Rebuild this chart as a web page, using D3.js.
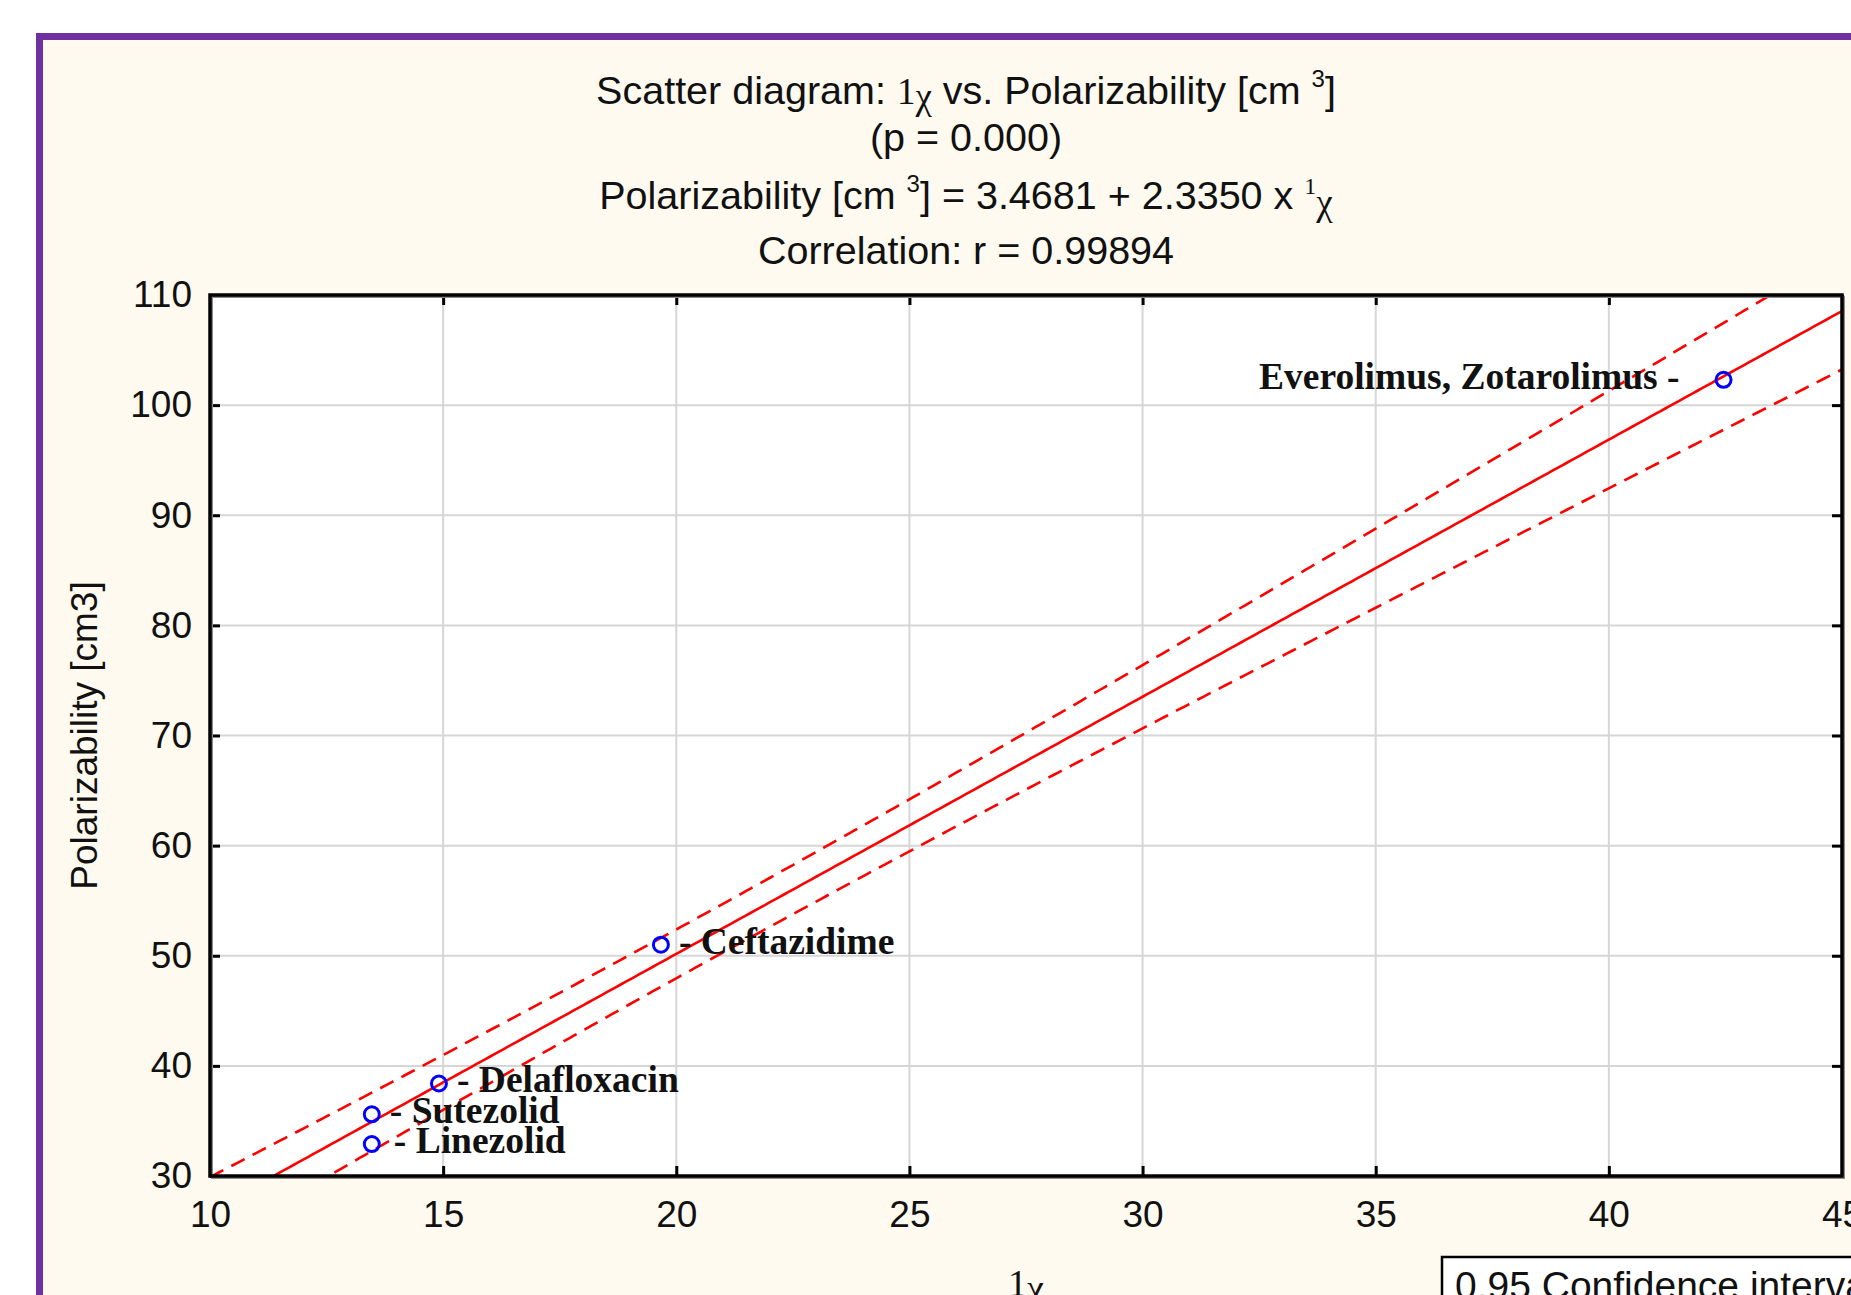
<!DOCTYPE html>
<html>
<head>
<meta charset="utf-8">
<script src="https://cdn.jsdelivr.net/npm/d3@7"></script>
<style>
  html, body { margin: 0; padding: 0; background: #ffffff; overflow: hidden; }
  svg { display: block; }
  .sans { font-family: "Liberation Sans", Arial, sans-serif; }
  .serif { font-family: "Liberation Serif", "Times New Roman", serif; }
</style>
</head>
<body>
<svg id="chart" width="1851" height="1295"></svg>
<script>
// ---------------- data ----------------
const pointNames = ["Everolimus, Zotarolimus", "Ceftazidime", "Delafloxacin", "Sutezolid", "Linezolid"];
const chiValues = [42.46, 19.67, 14.91, 13.47, 13.47];          // 1χ
const polarValues = [102.3, 51.0, 38.4, 35.6, 32.9];            // Polarizability [cm3]
const xTickValues = [10, 15, 20, 25, 30, 35, 40, 45];
const yTickValues = [30, 40, 50, 60, 70, 80, 90, 100, 110];
const fitIntercept = 3.4681;
const fitSlope = 2.3350;
const correlationR = "0.99894";
const pValueText = "0.000";
const confidenceLevel = "0.95";
const tCritical = 3.182; // t(0.975, df = n - 2 = 3)

// ---------------- layout ----------------
const W = 1851, H = 1295;
const plot = { left: 210, right: 1842, top: 295, bottom: 1176 };
const svg = d3.select("#chart");

// background + purple frame
svg.append("rect").attr("x", 0).attr("y", 0).attr("width", W).attr("height", H).attr("fill", "#ffffff");
svg.append("rect").attr("x", 39.5).attr("y", 36.5).attr("width", W + 50).attr("height", H + 50)
  .attr("fill", "#fefaef").attr("stroke", "#7030a0").attr("stroke-width", 7);

const x = d3.scaleLinear().domain([10, 45]).range([plot.left, plot.right]);
const y = d3.scaleLinear().domain([30, 110]).range([plot.bottom, plot.top]);

// plot area
svg.append("rect").attr("x", plot.left).attr("y", plot.top)
  .attr("width", plot.right - plot.left).attr("height", plot.bottom - plot.top).attr("fill", "#ffffff");

// gridlines
const grid = svg.append("g").attr("stroke", "#d6d6d6").attr("stroke-width", 2);
grid.selectAll("line.v").data(xTickValues.slice(1, -1)).join("line")
  .attr("x1", d => x(d)).attr("x2", d => x(d)).attr("y1", plot.top).attr("y2", plot.bottom);
grid.selectAll("line.h").data(yTickValues.slice(1, -1)).join("line")
  .attr("y1", d => y(d)).attr("y2", d => y(d)).attr("x1", plot.left).attr("x2", plot.right);

// clip
svg.append("clipPath").attr("id", "clip").append("rect")
  .attr("x", plot.left).attr("y", plot.top).attr("width", plot.right - plot.left).attr("height", plot.bottom - plot.top);

// regression + confidence band (derived from the data points)
const n = chiValues.length;
const meanX = d3.mean(chiValues);
const sxx = d3.sum(chiValues, v => (v - meanX) * (v - meanX));
const sse = d3.sum(chiValues.map((v, i) => {
  const r = polarValues[i] - (fitIntercept + fitSlope * v);
  return r * r;
}));
const sRes = Math.sqrt(sse / (n - 2));
const fit = v => fitIntercept + fitSlope * v;
const halfWidth = v => tCritical * sRes * Math.sqrt(1 / n + (v - meanX) * (v - meanX) / sxx);
const xs = d3.range(x.domain()[0], x.domain()[1] + 0.001, 0.1);

const lines = svg.append("g").attr("clip-path", "url(#clip)");
const lineGen = fn => d3.line().x(d => x(d)).y(d => y(fn(d)))(xs);
lines.append("path").attr("d", lineGen(fit)).attr("fill", "none").attr("stroke", "#ff0000").attr("stroke-width", 2.6);
lines.append("path").attr("d", lineGen(v => fit(v) + halfWidth(v))).attr("fill", "none")
  .attr("stroke", "#ff0000").attr("stroke-width", 2.6).attr("stroke-dasharray", "15,9");
lines.append("path").attr("d", lineGen(v => fit(v) - halfWidth(v))).attr("fill", "none")
  .attr("stroke", "#ff0000").attr("stroke-width", 2.6).attr("stroke-dasharray", "15,9");

// axes (ticks inside on all four sides)
const tickStyle = g => {
  g.select(".domain").remove();
  g.selectAll(".tick line").attr("stroke", "#000").attr("stroke-width", 3);
  g.selectAll(".tick text").attr("class", "sans").attr("font-size", 37).attr("fill", "#111");
};
svg.append("g").attr("transform", `translate(0,${plot.bottom})`)
  .call(d3.axisBottom(x).tickValues(xTickValues).tickSize(-10).tickPadding(25).tickFormat(d3.format("d")))
  .call(tickStyle);
svg.append("g").attr("transform", `translate(${plot.left},0)`)
  .call(d3.axisLeft(y).tickValues(yTickValues).tickSize(-10).tickPadding(18).tickFormat(d3.format("d")))
  .call(tickStyle);
svg.append("g").attr("transform", `translate(0,${plot.top})`)
  .call(d3.axisTop(x).tickValues(xTickValues).tickSize(-10).tickFormat(""))
  .call(tickStyle);
svg.append("g").attr("transform", `translate(${plot.right},0)`)
  .call(d3.axisRight(y).tickValues(yTickValues).tickSize(-10).tickFormat(""))
  .call(tickStyle);

// frame
svg.append("rect").attr("x", plot.left + 2).attr("y", plot.top + 2)
  .attr("width", plot.right - plot.left).attr("height", plot.bottom - plot.top)
  .attr("fill", "none").attr("stroke", "#8a8a8a").attr("stroke-width", 2);
svg.append("rect").attr("x", plot.left).attr("y", plot.top)
  .attr("width", plot.right - plot.left).attr("height", plot.bottom - plot.top)
  .attr("fill", "none").attr("stroke", "#000").attr("stroke-width", 3.5);

// points
const pts = pointNames.map((name, i) => ({ name, cx: chiValues[i], py: polarValues[i] }));
svg.append("g").selectAll("circle").data(pts).join("circle")
  .attr("cx", d => x(d.cx)).attr("cy", d => y(d.py)).attr("r", 7.5)
  .attr("fill", "none").attr("stroke", "#0000ff").attr("stroke-width", 3);

// point labels
const leftLabels = new Set(["Everolimus, Zotarolimus"]);
svg.append("g").selectAll("text").data(pts).join("text")
  .attr("class", "serif").attr("font-size", 37.5).attr("font-weight", "bold").attr("fill", "#111")
  .attr("x", d => leftLabels.has(d.name) ? x(d.cx) - 44 : x(d.cx) + (d.name === "Linezolid" ? 22 : 18))
  .attr("y", d => y(d.py) + 9)
  .attr("text-anchor", d => leftLabels.has(d.name) ? "end" : "start")
  .text(d => leftLabels.has(d.name) ? d.name + " -" : "- " + d.name);

// titles
const cx = 966;
const tfs = 39.5;
const t1 = svg.append("text").attr("class", "sans").attr("font-size", tfs).attr("fill", "#111")
  .attr("x", cx).attr("y", 104).attr("text-anchor", "middle");
t1.append("tspan").text("Scatter diagram: ");
t1.append("tspan").attr("class", "serif").attr("font-size", 37).text("1");
t1.append("tspan").attr("class", "serif").attr("font-size", 37).attr("dy", 5).text("χ");
t1.append("tspan").attr("dy", -5).text(" vs. Polarizability [cm ");
t1.append("tspan").attr("font-size", 24).attr("dy", -17).text("3");
t1.append("tspan").attr("dy", 17).text("]");

svg.append("text").attr("class", "sans").attr("font-size", tfs).attr("fill", "#111")
  .attr("x", cx).attr("y", 151).attr("text-anchor", "middle").text(`(p = ${pValueText})`);

const t3 = svg.append("text").attr("class", "sans").attr("font-size", tfs).attr("fill", "#111")
  .attr("x", cx).attr("y", 209).attr("text-anchor", "middle");
t3.append("tspan").text("Polarizability [cm ");
t3.append("tspan").attr("font-size", 24).attr("dy", -17).text("3");
t3.append("tspan").attr("dy", 17).text(`] = ${fitIntercept.toFixed(4)} + ${fitSlope.toFixed(4)} x  `);
t3.append("tspan").attr("class", "serif").attr("font-size", 24).attr("dy", -15).text("1");
t3.append("tspan").attr("class", "serif").attr("font-size", 37).attr("dy", 21).text("χ");

svg.append("text").attr("class", "sans").attr("font-size", tfs).attr("fill", "#111")
  .attr("x", cx).attr("y", 264).attr("text-anchor", "middle").text(`Correlation: r = ${correlationR}`);

// axis titles
svg.append("text").attr("class", "sans").attr("font-size", 37).attr("fill", "#111")
  .attr("text-anchor", "middle")
  .attr("transform", `translate(97,${(plot.top + plot.bottom) / 2}) rotate(-90)`)
  .text("Polarizability [cm3]");

const xt = svg.append("text").attr("class", "serif").attr("font-size", 38).attr("fill", "#111")
  .attr("x", (plot.left + plot.right) / 2).attr("y", 1296).attr("text-anchor", "middle");
xt.append("tspan").text("1");
xt.append("tspan").attr("dy", 5).text("χ");

// legend (partly outside the picture)
svg.append("rect").attr("x", 1442).attr("y", 1257).attr("width", 500).attr("height", 100)
  .attr("fill", "#ffffff").attr("stroke", "#000").attr("stroke-width", 2.5);
svg.append("text").attr("class", "sans").attr("font-size", 39).attr("fill", "#111")
  .attr("x", 1455).attr("y", 1299).text(`${confidenceLevel} Confidence interval`);
</script>
</body>
</html>
